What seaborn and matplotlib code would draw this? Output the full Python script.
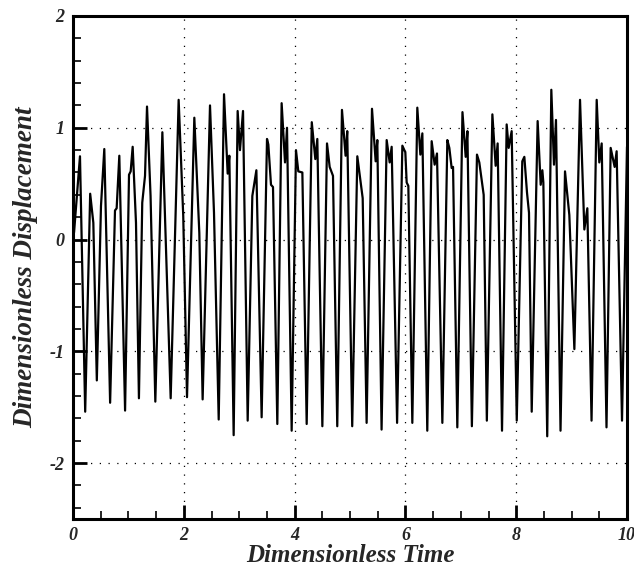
import numpy as np
import pandas as pd
import matplotlib
matplotlib.use("Agg")
import matplotlib.pyplot as plt
import seaborn as sns
from matplotlib.ticker import MultipleLocator

# ── Data ──────────────────────────────────────────────────────────────────────
time = [
    0.0, 0.02, 0.126, 0.22, 0.31, 0.367, 0.43, 0.505, 0.565, 0.67, 0.758, 0.788,
    0.836, 0.94, 1.011, 1.041, 1.077, 1.137, 1.19, 1.25, 1.30, 1.336, 1.40,
    1.486, 1.613, 1.763, 1.907, 1.99, 2.058, 2.19, 2.28, 2.34, 2.473, 2.545,
    2.63, 2.726, 2.792, 2.822, 2.90, 2.972, 3.014, 3.069, 3.153,
    3.237, 3.31, 3.405, 3.502, 3.526, 3.574, 3.61, 3.688, 3.766, 3.827, 3.863,
    3.947, 4.025, 4.067, 4.14, 4.218, 4.31, 4.374, 4.41, 4.501, 4.585, 4.633,
    4.693, 4.77, 4.855,
    4.92, 4.95, 5.04, 5.132, 5.229, 5.30, 5.397, 5.463, 5.493, 5.57, 5.662,
    5.716, 5.752, 5.85, 5.945, 5.999, 6.023, 6.053, 6.125, 6.215, 6.27, 6.306,
    6.395, 6.474, 6.528, 6.57,
    6.667, 6.757, 6.793, 6.835, 6.86, 6.937, 7.03, 7.088, 7.119, 7.20, 7.292,
    7.334, 7.413, 7.47, 7.57, 7.629, 7.665, 7.744, 7.828, 7.864, 7.918, 8.01,
    8.11, 8.147, 8.195, 8.231, 8.28,
    8.387, 8.442, 8.472, 8.49, 8.56, 8.634, 8.682, 8.718, 8.80, 8.881, 8.959,
    9.05, 9.152, 9.23, 9.284, 9.36, 9.453, 9.50, 9.543, 9.63, 9.705, 9.777,
    9.813, 9.91, 10.0,
]
displacement = [
    0.0, 0.07, 0.745, -1.54, 0.41, 0.15, -1.26, 0.30, 0.81, -1.46, 0.26, 0.28,
    0.75, -1.53, 0.58, 0.61, 0.83, 0.15, -1.42, 0.33, 0.57, 1.19, 0.39,
    -1.45, 0.96, -1.42, 1.25, 0.21, -1.41, 1.09, 0.06, -1.43, 1.20, 0.24,
    -1.61, 1.30, 0.59, 0.75, -1.75, 1.15, 0.80, 1.15, -1.62,
    0.39, 0.62, -1.59, 0.90, 0.85, 0.49, 0.47, -1.65, 1.22, 0.69, 1.00,
    -1.71, 0.80, 0.61, 0.60, -1.65, 1.05, 0.72, 0.90, -1.67, 0.86, 0.65,
    0.57, -1.67, 1.16,
    0.75, 0.97, -1.67, 0.745, 0.37, -1.64, 1.17, 0.70, 0.89, -1.70, 0.89,
    0.69, 0.83, -1.64, 0.84, 0.78, 0.51, 0.48, -1.64, 1.18, 0.76, 0.95,
    -1.71, 0.88, 0.67, 0.77,
    -1.64, 0.89, 0.82, 0.64, 0.65, -1.68, 1.14, 0.74, 0.97, -1.67, 0.76,
    0.69, 0.40, -1.62, 1.12, 0.66, 0.86, -1.71, 1.03, 0.82, 0.97, -1.62,
    0.70, 0.74, 0.42, 0.24, -1.54,
    1.06, 0.49, 0.62, 0.51, -1.76, 1.34, 0.67, 1.07, -1.71, 0.61, 0.22,
    -0.98, 1.25, 0.09, 0.28, -1.62, 1.25, 0.69, 0.86, -1.68, 0.82, 0.65,
    0.79, -1.62, 0.83,
]
x_ticks = [0, 2, 4, 6, 8, 10]
y_ticks = [-2, -1, 0, 1, 2]

df = pd.DataFrame({"time": time, "disp": displacement})

# ── Style ─────────────────────────────────────────────────────────────────────
sns.set_theme(style="white")
plt.rcParams["font.family"] = ["Liberation Serif", "DejaVu Serif"]
plt.rcParams["axes.unicode_minus"] = False

fig = plt.figure(figsize=(6.34, 5.67), dpi=100)
ax = fig.add_axes([73 / 634, 48 / 567, 554 / 634, 503 / 567])

sns.lineplot(data=df, x="time", y="disp", color="black", linewidth=1.6,
             estimator=None, sort=False, ax=ax)

ax.set_xlim(0, 10)
ax.set_ylim(-2.5, 2)
ax.set_xticks(x_ticks)
ax.set_yticks(y_ticks)
ax.xaxis.set_minor_locator(MultipleLocator(0.5))
ax.yaxis.set_minor_locator(MultipleLocator(0.2))

ax.tick_params(which="major", direction="in", length=10, width=2, color="black",
               left=True, bottom=True, top=False, right=False, pad=6)
ax.tick_params(which="minor", direction="in", length=6, width=1.2, color="black",
               left=True, bottom=True, top=False, right=False)

for lbl in ax.get_xticklabels() + ax.get_yticklabels():
    lbl.set_fontweight("bold")
    lbl.set_fontstyle("italic")
    lbl.set_fontsize(13)

ax.grid(True, which="major", color="black", linestyle=(0, (1, 6)), linewidth=0.9)

for side in ax.spines.values():
    side.set_linewidth(2.2)
    side.set_color("black")

ax.set_xlabel("Dimensionless Time", fontsize=18, fontweight="bold",
              fontstyle="italic", labelpad=0)
ax.set_ylabel("Dimensionless Displacement", fontsize=19.5, fontweight="bold",
              fontstyle="italic", labelpad=8)

fig.savefig("out.png", dpi=100)
